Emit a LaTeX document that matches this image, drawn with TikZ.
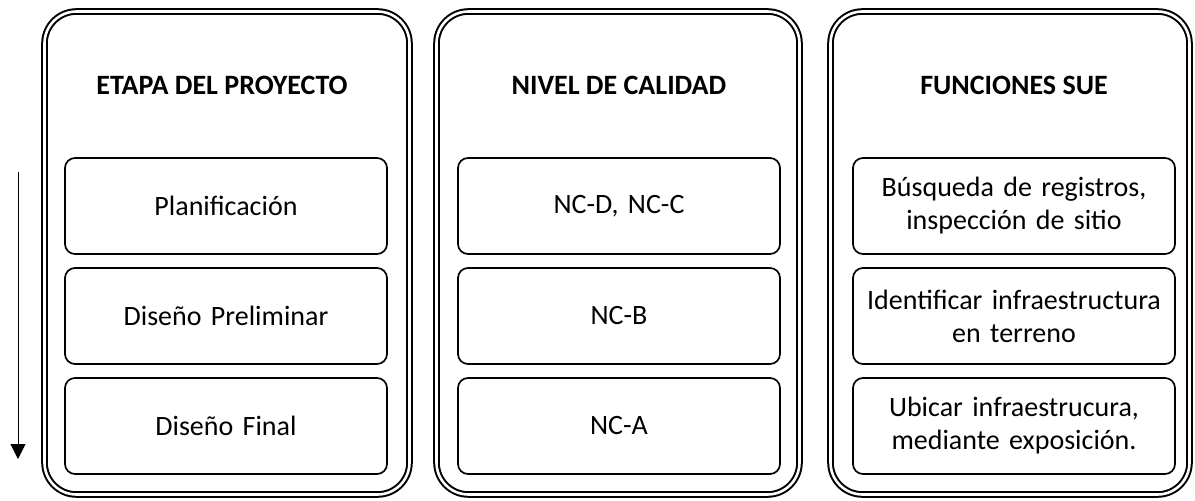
\documentclass[tikz,border=0pt]{standalone}
\usepackage{fontspec}
\setmainfont{Carlito}
\usetikzlibrary{arrows.meta}
\pgfdeclarelayer{edgelayer}
\pgfdeclarelayer{nodelayer}
\pgfsetlayers{edgelayer,nodelayer,main}
\tikzstyle{panel}=[draw=black,line width=2pt,double=white,double distance=2.6pt,rounded corners=32pt,minimum height=483pt]
\tikzstyle{heading}=[font=\fontsize{28}{34}\selectfont\bfseries]
\tikzstyle{item}=[draw=black,line width=1.7pt,rounded corners=10pt,fill=white,minimum width=322pt,minimum height=96pt,text width=314pt,align=center,font=\fontsize{28}{33}\selectfont]
\tikzstyle{flow}=[-{Triangle[length=15pt,width=15pt]},draw=black,line width=1pt]

\begin{document}
\begin{tikzpicture}[x=1pt,y=-1pt]
	\useasboundingbox (0,0) rectangle (1195,501);
	\begin{pgfonlayer}{edgelayer}
		\node [style=panel, minimum width=365pt] (etapa) at (227,253) {};
		\node [style=panel, minimum width=363pt] (nivel) at (618,253) {};
		\node [style=panel, minimum width=359pt] (func) at (1010,253) {};
	\end{pgfonlayer}
	\begin{pgfonlayer}{nodelayer}
		\node [style=heading] (h1) at (222,85) {ETAPA DEL PROYECTO};
		\node [style=heading] (h2) at (619,85) {NIVEL DE CALIDAD};
		\node [style=heading] (h3) at (1014,85) {FUNCIONES SUE};
		\node [style=item] (e1) at (226,206) {Planificación};
		\node [style=item] (e2) at (226,316) {Diseño Preliminar};
		\node [style=item] (e3) at (226,426) {Diseño Final};
		\node [style=item] (n1) at (619,206) {NC-D, NC-C};
		\node [style=item] (n2) at (619,316) {NC-B};
		\node [style=item] (n3) at (619,426) {NC-A};
		\node [style=item] (f1) at (1014,206) {Búsqueda de registros,\\inspección de sitio};
		\node [style=item] (f2) at (1014,316) {Identificar infraestructura\\en terreno};
		\node [style=item] (f3) at (1014,426) {Ubicar infraestrucura,\\mediante exposición.};
	\end{pgfonlayer}
	\coordinate (start) at (18,172);
	\coordinate (end) at (18,459);
	\draw [style=flow] (start) -- (end);
\end{tikzpicture}
\end{document}
